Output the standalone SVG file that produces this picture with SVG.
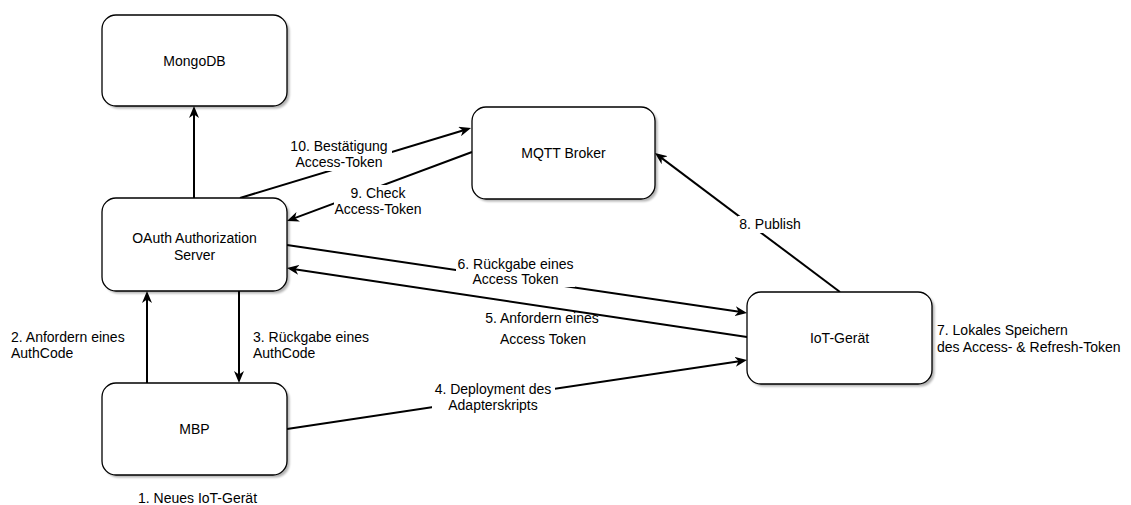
<svg xmlns="http://www.w3.org/2000/svg" width="1131" height="505" viewBox="0 0 1131 505">
  <style>
    .box { fill: #ffffff; stroke: #000000; stroke-width: 1.3; }
    .shadow { fill: #000000; opacity: 0.3; filter: url(#soft); }
    .txt { font-family: "Liberation Sans", Arial, sans-serif; font-size: 14px; fill: #000000; }
    .mid { text-anchor: middle; }
    .edge { fill: none; stroke: #000000; stroke-width: 2; marker-end: url(#arrow); }
    .bg { fill: #ffffff; }
  </style>
  <defs>
    <filter id="soft" x="-10%" y="-10%" width="120%" height="120%">
      <feGaussianBlur stdDeviation="1"/>
    </filter>
    <marker id="arrow" viewBox="0 0 12 10" refX="6" refY="5" markerWidth="12" markerHeight="10" markerUnits="userSpaceOnUse" orient="auto">
      <path d="M0,0 L12,5 L0,10 L3.5,5 Z" fill="#000000"/>
    </marker>
  </defs>

  <rect width="1131" height="505" fill="#ffffff"/>

  <!-- connectors -->
  <g id="connectors">
    <line class="edge" x1="194" y1="198" x2="194" y2="112"/>
    <line class="edge" x1="147" y1="383" x2="147" y2="297"/>
    <line class="edge" x1="239" y1="291" x2="239" y2="377"/>
    <line class="edge" x1="240" y1="198" x2="465.3" y2="129.7"/>
    <line class="edge" x1="472" y1="152" x2="292.6" y2="218.9"/>
    <line class="edge" x1="287" y1="245" x2="741.1" y2="312.1"/>
    <line class="edge" x1="747" y1="337" x2="292.9" y2="268.9"/>
    <line class="edge" x1="287" y1="429" x2="741.1" y2="360.9"/>
    <line class="edge" x1="840" y1="292" x2="659.8" y2="156.6"/>

    <!-- edge labels -->
    <rect class="bg" x="288" y="138" width="104" height="33"/>
    <text class="txt mid" x="339" y="151">10. Bestätigung</text>
    <text class="txt mid" x="339" y="167">Access-Token</text>

    <rect class="bg" x="334" y="185" width="90" height="32"/>
    <text class="txt mid" x="378" y="198">9. Check</text>
    <text class="txt mid" x="378" y="214">Access-Token</text>

    <rect class="bg" x="456" y="256" width="119" height="31"/>
    <text class="txt mid" x="515.5" y="269">6. Rückgabe eines</text>
    <text class="txt mid" x="515.5" y="284">Access Token</text>

    <text class="txt mid" x="542" y="323">5. Anfordern eines</text>
    <text class="txt mid" x="543" y="344">Access Token</text>

    <rect class="bg" x="432" y="381" width="123" height="31"/>
    <text class="txt mid" x="493" y="394">4. Deployment des</text>
    <text class="txt mid" x="493" y="410">Adapterskripts</text>

    <rect class="bg" x="738" y="216" width="64" height="17"/>
    <text class="txt mid" x="770" y="229">8. Publish</text>
  </g>

  <!-- nodes -->
  <g id="mongodb">
    <rect class="shadow" x="104.5" y="17.5" width="185" height="91" rx="14"/>
    <rect class="box" x="102" y="15" width="185" height="91" rx="14"/>
    <text class="txt mid" x="194.5" y="65.5">MongoDB</text>
  </g>

  <g id="oauth-server">
    <rect class="shadow" x="104.5" y="200.5" width="185" height="93" rx="14"/>
    <rect class="box" x="102" y="198" width="185" height="93" rx="14"/>
    <text class="txt mid" x="194.5" y="243">OAuth Authorization</text>
    <text class="txt mid" x="194.5" y="259.5">Server</text>
  </g>

  <g id="mbp">
    <rect class="shadow" x="104.5" y="385.5" width="185" height="92" rx="14"/>
    <rect class="box" x="102" y="383" width="185" height="92" rx="14"/>
    <text class="txt mid" x="194.5" y="433.5">MBP</text>
  </g>

  <g id="mqtt-broker">
    <rect class="shadow" x="474.5" y="109.5" width="183" height="92" rx="14"/>
    <rect class="box" x="472" y="107" width="183" height="92" rx="14"/>
    <text class="txt mid" x="563.5" y="157.5">MQTT Broker</text>
  </g>

  <g id="iot-device">
    <rect class="shadow" x="749.5" y="294.5" width="185" height="92" rx="14"/>
    <rect class="box" x="747" y="292" width="185" height="92" rx="14"/>
    <text class="txt mid" x="839.5" y="343">IoT-Gerät</text>
  </g>

  <!-- free annotations -->
  <g id="annotations">
    <text class="txt" x="11" y="342">2. Anfordern eines</text>
    <text class="txt" x="11" y="358">AuthCode</text>
    <text class="txt" x="253" y="342">3. Rückgabe eines</text>
    <text class="txt" x="253" y="358">AuthCode</text>
    <text class="txt mid" x="197.5" y="503">1. Neues IoT-Gerät</text>
    <text class="txt" x="937" y="335">7. Lokales Speichern</text>
    <text class="txt" x="937" y="352">des Access- &amp; Refresh-Token</text>
  </g>
</svg>
